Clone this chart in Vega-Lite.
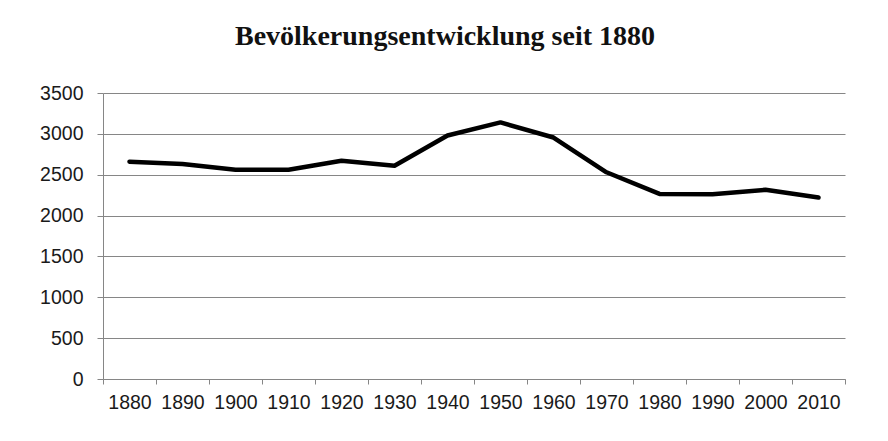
{
  "$schema": "https://vega.github.io/schema/vega-lite/v6.json",
  "autosize": {"type": "none"},
  "width": 742,
  "height": 286,
  "padding": {"left": 103, "top": 93, "right": 43, "bottom": 62},
  "background": "white",
  "title": {
    "text": "Bevölkerungsentwicklung seit 1880",
    "font": "Liberation Serif",
    "fontSize": 28,
    "fontWeight": "bold",
    "color": "#111111",
    "anchor": "middle",
    "baseline": "alphabetic",
    "offset": 10,
    "dx": -29
  },
  "data": {
    "values": [
      {"Jahr": "1880", "Einwohner": 2660},
      {"Jahr": "1890", "Einwohner": 2630},
      {"Jahr": "1900", "Einwohner": 2560},
      {"Jahr": "1910", "Einwohner": 2560},
      {"Jahr": "1920", "Einwohner": 2670},
      {"Jahr": "1930", "Einwohner": 2610},
      {"Jahr": "1940", "Einwohner": 2980},
      {"Jahr": "1950", "Einwohner": 3140},
      {"Jahr": "1960", "Einwohner": 2955},
      {"Jahr": "1970", "Einwohner": 2530},
      {"Jahr": "1980", "Einwohner": 2265},
      {"Jahr": "1990", "Einwohner": 2260},
      {"Jahr": "2000", "Einwohner": 2315},
      {"Jahr": "2010", "Einwohner": 2220}
    ]
  },
  "mark": {"type": "line", "color": "black", "strokeWidth": 4.5, "strokeJoin": "round", "strokeCap": "round"},
  "encoding": {
    "x": {
      "field": "Jahr",
      "type": "ordinal",
      "scale": {"type": "band", "paddingInner": 0, "paddingOuter": 0},
      "axis": {
        "title": null,
        "labelAngle": 0,
        "tickBand": "extent",
        "grid": false,
        "domainColor": "#868686",
        "tickColor": "#868686",
        "tickSize": 5,
        "labelFont": "Liberation Sans",
        "labelFontSize": 19.5,
        "labelColor": "#1a1a1a",
        "labelPadding": 9
      }
    },
    "y": {
      "field": "Einwohner",
      "type": "quantitative",
      "scale": {"domain": [0, 3500], "nice": false},
      "axis": {
        "title": null,
        "format": "d",
        "values": [0, 500, 1000, 1500, 2000, 2500, 3000, 3500],
        "grid": true,
        "gridColor": "#868686",
        "gridOpacity": 1,
        "domainColor": "#868686",
        "tickColor": "#868686",
        "tickSize": 6,
        "labelFont": "Liberation Sans",
        "labelFontSize": 19.5,
        "labelColor": "#1a1a1a",
        "labelPadding": 14
      }
    }
  },
  "config": {"view": {"stroke": null}}
}
